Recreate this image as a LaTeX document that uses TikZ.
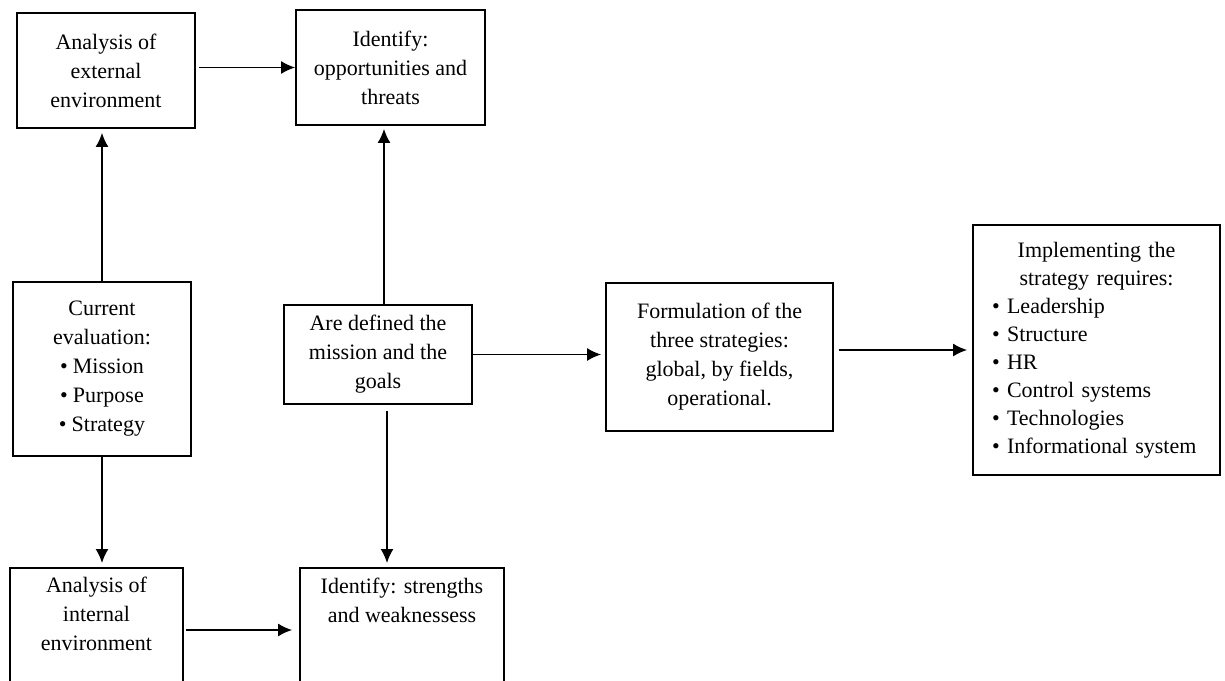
\documentclass[tikz,border=0pt]{standalone}
\usepackage{fontspec}
\setmainfont{Liberation Serif}
\usetikzlibrary{arrows.meta,positioning}

\begin{document}
\begin{tikzpicture}[x=1pt, y=-1pt,
	box/.style={draw, line width=1.8, font=\fontsize{22}{29}\selectfont, align=center, inner sep=0},
	txt/.style={font=\fontsize{22}{29}\selectfont, align=center, inner sep=0},
	arr/.style={-{Latex[length=14pt,width=13pt]}, line width=1.6}
]
\useasboundingbox (0,0) rectangle (1225,680);

\node[box, minimum width=178, minimum height=115] (ext) at (106,70.5) {Analysis of\\external\\environment};
\node[box, minimum width=189, minimum height=115] (opp) at (390.5,67.5) {Identify:\\opportunities and\\threats};
\node[box, minimum width=178, minimum height=174] (cur) at (102,369) {Current\\evaluation:\\\textbullet\hspace{5pt}Mission\\\textbullet\hspace{5pt}Purpose\\\textbullet\hspace{5pt}Strategy};
\node[box, minimum width=188, minimum height=99] (goals) at (378,354.5) {Are defined the\\mission and the\\goals};
\node[box, minimum width=227, minimum height=148] (form) at (719.5,357) {Formulation of the\\three strategies:\\global, by fields,\\operational.};
\node[box, minimum width=247, minimum height=250, text width=209, inner xsep=19, align=left, font=\fontsize{22}{28}\selectfont] (impl) at (1096.5,350)
	{\centering Implementing the\\strategy requires:\par\raggedright
	\textbullet\ Leadership\\\textbullet\ Structure\\\textbullet\ HR\\\textbullet\ Control systems\\\textbullet\ Technologies\\\textbullet\ Informational system\\[6pt]};

% lower boxes run off the bottom edge
\node[box, minimum width=173, minimum height=130, anchor=north] (int) at (96.5,567) {};
\node[txt, below=10pt of int.north] (inttxt) {Analysis of\\internal\\environment};
\node[box, minimum width=204, minimum height=130, anchor=north] (str) at (402,567) {};
\node[txt, below=11pt of str.north] (strtxt) {Identify: strengths\\and weaknessess};

\draw[arr, shorten <=3pt] (ext.east |- opp.west) -- (opp.west);
\draw[arr, shorten >=4pt] (cur.north) -- (cur.north |- ext.south);
\draw[arr, shorten >=3pt] ([xshift=6pt]goals.north) -- ([xshift=6pt]goals.north |- opp.south);
\draw[arr, shorten >=4pt] (cur.south) -- (cur.south |- int.north);
\draw[arr, shorten <=6pt, shorten >=4pt] ([xshift=9pt]goals.south) -- ([xshift=9pt]goals.south |- str.north);
\draw[arr, shorten <=2pt, shorten >=7pt] ([yshift=-63pt]int.north east) -- ([yshift=-63pt]int.north east -| str.west);
\draw[arr, shorten >=4pt] (goals.east) -- (goals.east -| form.west);
\draw[arr, shorten <=5pt, shorten >=5pt] ([yshift=7pt]form.east) -- ([yshift=7pt]form.east -| impl.west);
\end{tikzpicture}
\end{document}
